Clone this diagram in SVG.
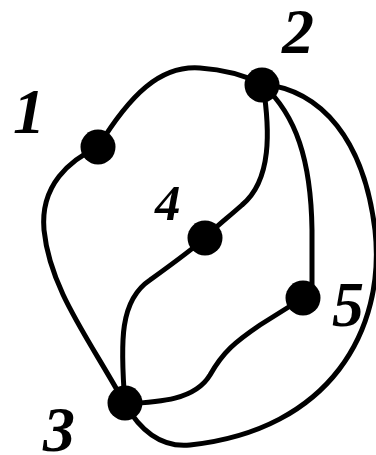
<svg xmlns="http://www.w3.org/2000/svg" width="376" height="455" viewBox="0 0 376 455">
<style>
.e{fill:none;stroke:#000;stroke-width:5;stroke-linecap:round}
.n{fill:#000}
.l{font-family:"Liberation Serif","Times New Roman",serif;font-weight:bold;font-style:italic;fill:#000}
</style>
<rect width="376" height="455" fill="#fff"/>
<g id="edges">
<path class="e" d="M98,147 C130,95 160,65 200,68 C230,70 250,78 262,84"/>
<path class="e" d="M98,147 C70,160 40,185 44,230 C50,290 90,340 125,404"/>
<path class="e" d="M263,85 C270,130 272,180 242,205 C225,220 212,230 205,238"/>
<path class="e" d="M263,85 C296,115 311,160 312,230 L312,292"/>
<path class="e" d="M262,84 C322,90 364,140 375,230 C386,330 330,430 190,445 C160,448 140,430 125,404"/>
<path class="e" d="M125,404 C120,340 120,300 150,280 C175,262 195,247 205,238"/>
<path class="e" d="M125,404 C160,402 195,400 210,375 C223,352 235,342 260,325 L303,298"/>
</g>
<g id="node1"><circle class="n" cx="98" cy="147" r="17.5"/><text class="l" x="13" y="133" font-size="64">1</text></g>
<g id="node2"><circle class="n" cx="262" cy="85" r="17.5"/><text class="l" x="282" y="53" font-size="64">2</text></g>
<g id="node3"><circle class="n" cx="125" cy="403" r="17.5"/><text class="l" x="43" y="451" font-size="64">3</text></g>
<g id="node4"><circle class="n" cx="205" cy="238" r="17.5"/><text class="l" x="155" y="220" font-size="51">4</text></g>
<g id="node5"><circle class="n" cx="303" cy="298" r="17.5"/><text class="l" x="332" y="326" font-size="64">5</text></g>
</svg>
